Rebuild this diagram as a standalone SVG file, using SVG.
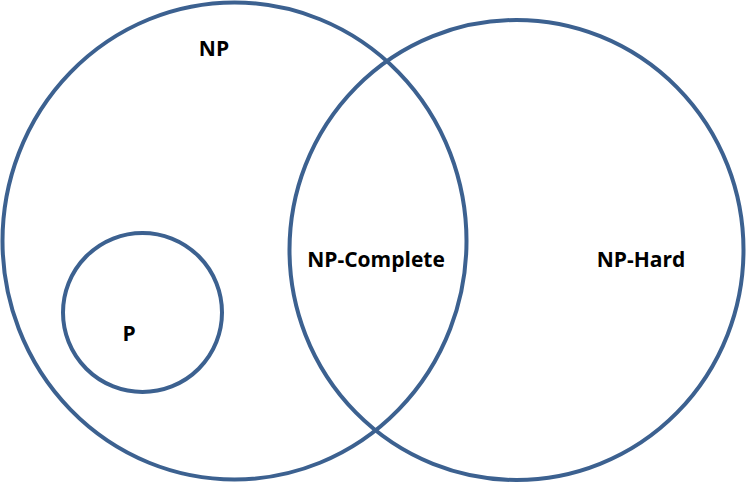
<svg xmlns="http://www.w3.org/2000/svg" width="746" height="482" viewBox="0 0 746 482">
<style>
.c{fill:none;stroke:#3c6190;stroke-width:4}
.t{font-family:"Open Sans",sans-serif;font-weight:bold;font-size:21px;fill:#000;text-anchor:middle}
</style>
<rect width="746" height="482" fill="#fff"/>
<g id="np"><ellipse class="c" cx="234.5" cy="241" rx="232" ry="238.5"/><text class="t" x="214" y="56">NP</text></g>
<g id="nphard"><ellipse class="c" cx="516.5" cy="250" rx="227" ry="230"/><text class="t" x="641" y="267">NP-Hard</text></g>
<g id="p"><circle class="c" cx="142.5" cy="312.5" r="79.5"/><text class="t" x="129" y="341">P</text></g>
<g id="npc"><text class="t" x="376" y="267">NP-Complete</text></g>
<g id="connectors"/>
</svg>
